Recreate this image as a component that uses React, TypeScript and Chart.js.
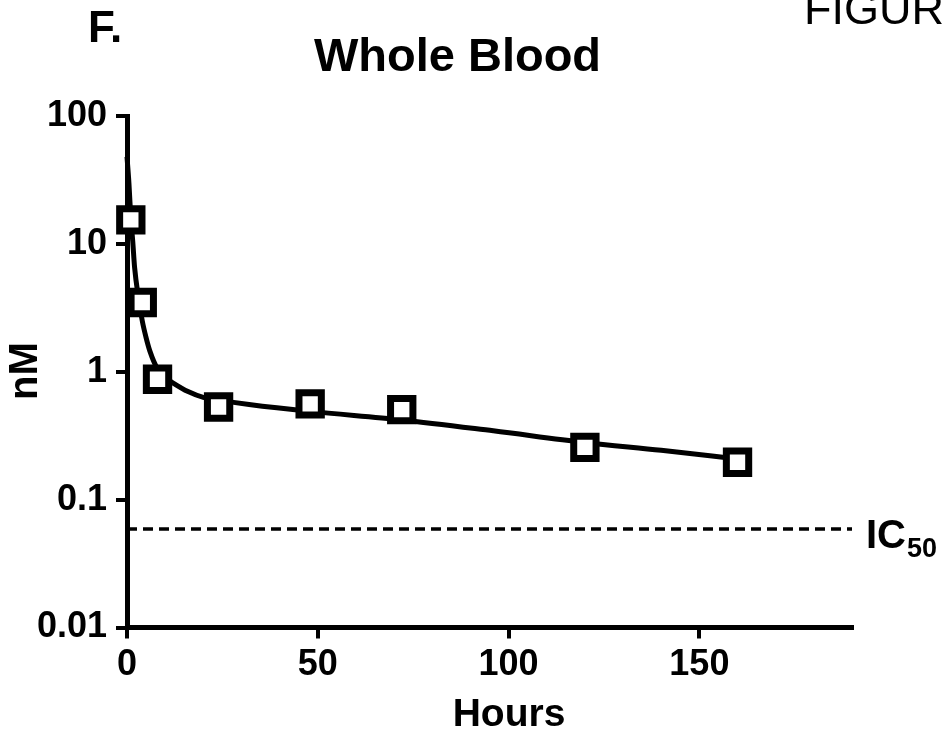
import React, { useEffect, useRef } from 'react';
import { Chart, registerables } from 'chart.js';

Chart.register(...registerables);

// Measured samples (hours, nM)
const sampleHours = [1, 4, 8, 24, 48, 72, 120, 160];
const sampleConc = [15.4, 3.48, 0.874, 0.53, 0.56, 0.505, 0.256, 0.196];

// Fitted curve (hours, nM)
const fitHours = [0, 0.5, 1, 1.5, 2, 3, 4, 5, 6, 8, 10, 12, 16, 20, 24, 32, 48, 72, 96, 120, 140, 160];
const fitConc = [48, 30, 16, 10.5, 6.5, 3.8, 2.5, 1.85, 1.45, 1.05, 0.9, 0.82, 0.7, 0.63, 0.6, 0.555, 0.49, 0.42, 0.345, 0.28, 0.243, 0.208];

// IC50 reference line
const ic50Hours = [0, 190];
const ic50Conc = [0.059, 0.059];

const xTicks = [0, 50, 100, 150];
const yTicks = [0.01, 0.1, 1, 10, 100];

const FONT = '"Liberation Sans", Arial, Helvetica, sans-serif';

const textPlugin = {
  id: 'extraText',
  afterDraw(chart: any) {
    const ctx = chart.ctx;
    ctx.save();
    ctx.fillStyle = '#000';
    ctx.textBaseline = 'alphabetic';

    ctx.textAlign = 'center';
    ctx.font = `bold 47px ${FONT}`;
    ctx.fillText('Whole Blood', 457.5, 71);

    ctx.textAlign = 'left';
    ctx.font = `bold 44px ${FONT}`;
    ctx.fillText('F.', 88, 42);

    ctx.font = `45px ${FONT}`;
    ctx.fillText('FIGURE', 804, 24);

    ctx.font = `bold 40px ${FONT}`;
    ctx.fillText('IC', 866, 548);
    ctx.font = `bold 27px ${FONT}`;
    ctx.fillText('50', 907, 557);

    ctx.textAlign = 'center';
    ctx.font = `bold 39px ${FONT}`;
    ctx.fillText('Hours', 509, 726);

    ctx.save();
    ctx.translate(37, 371);
    ctx.rotate(-Math.PI / 2);
    ctx.font = `bold 40px ${FONT}`;
    ctx.fillText('nM', 0, 0);
    ctx.restore();

    ctx.restore();
  },
};

export default function App() {
  const ref = useRef<HTMLCanvasElement | null>(null);

  useEffect(() => {
    document.body.style.margin = '0';
    const canvas = ref.current;
    if (!canvas) return;

    const chart = new Chart(canvas, {
      type: 'line',
      data: {
        datasets: [
          {
            label: 'Samples',
            data: sampleHours.map((h, i) => ({ x: h, y: sampleConc[i] })),
            showLine: false,
            pointStyle: 'rect',
            pointRadius: 15.8,
            pointBorderWidth: 7,
            pointBackgroundColor: '#ffffff',
            pointBorderColor: '#000000',
            borderColor: '#000000',
            clip: false,
            order: 0,
          },
          {
            label: 'Fit',
            data: fitHours.map((h, i) => ({ x: h, y: fitConc[i] })),
            borderColor: '#000000',
            borderWidth: 5,
            pointRadius: 0,
            cubicInterpolationMode: 'monotone',
            fill: false,
            clip: false,
            order: 1,
          },
          {
            label: 'IC50',
            data: ic50Hours.map((h, i) => ({ x: h, y: ic50Conc[i] })),
            borderColor: '#000000',
            borderWidth: 3.5,
            borderDash: [10, 6],
            pointRadius: 0,
            fill: false,
            order: 2,
          },
        ],
      },
      options: {
        responsive: false,
        animation: false,
        events: [],
        layout: { padding: { left: 0, right: 93, top: 116, bottom: 0 } },
        plugins: {
          legend: { display: false },
          tooltip: { enabled: false },
          title: { display: false },
        },
        scales: {
          x: {
            type: 'linear',
            min: 0,
            max: 190,
            afterFit: (s: any) => {
              s.height = 108.5;
            },
            afterBuildTicks: (s: any) => {
              s.ticks = xTicks.map((v) => ({ value: v }));
            },
            grid: {
              display: true,
              drawOnChartArea: false,
              drawTicks: true,
              tickLength: 11,
              tickWidth: 4,
              tickColor: '#000',
              color: '#000',
              lineWidth: 4,
            },
            border: { display: true, color: '#000', width: 5 },
            ticks: {
              color: '#000',
              padding: 5,
              maxRotation: 0,
              font: { family: FONT, size: 36, weight: 'bold' },
              callback: (v: any) => String(v),
            },
          },
          y: {
            type: 'logarithmic',
            min: 0.01,
            max: 100,
            afterFit: (s: any) => {
              s.width = 127;
            },
            afterBuildTicks: (s: any) => {
              s.ticks = yTicks.map((v) => ({ value: v }));
            },
            grid: {
              display: true,
              drawOnChartArea: false,
              drawTicks: true,
              tickLength: 11,
              tickWidth: 4,
              tickColor: '#000',
              color: '#000',
              lineWidth: 4,
            },
            border: { display: true, color: '#000', width: 5 },
            ticks: {
              color: '#000',
              padding: 9,
              font: { family: FONT, size: 36, weight: 'bold' },
              callback: (v: any) => String(v),
            },
          },
        },
      },
      plugins: [textPlugin],
    } as any);

    return () => chart.destroy();
  }, []);

  return (
    <div style={{ width: 945, height: 736 }}>
      <canvas ref={ref} width={945} height={736} style={{ display: 'block' }} />
    </div>
  );
}
